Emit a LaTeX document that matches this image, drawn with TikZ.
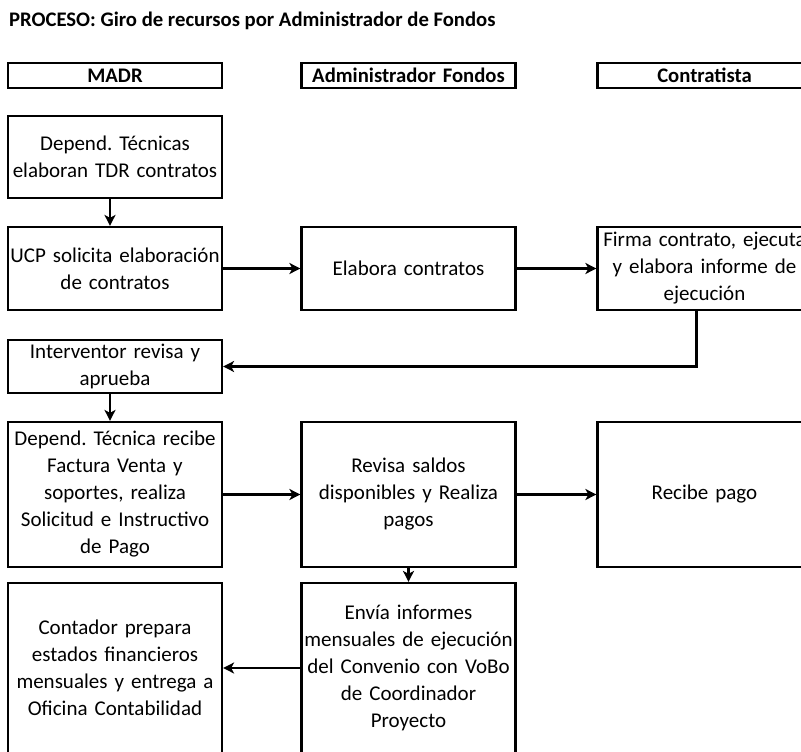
\documentclass[tikz,border=0pt]{standalone}
\usepackage{fontspec}
\setmainfont{Carlito}
\frenchspacing
\usetikzlibrary{positioning}
\usetikzlibrary{arrows.meta}

\begin{document}
\begin{tikzpicture}[
  x=1pt, y=-1pt,
  line width=2.2pt,
  procbox/.style={draw, rectangle, minimum width=214pt, text width=214pt,
    inner xsep=0pt, inner ysep=0pt, align=center,
    font=\fontsize{21}{27}\selectfont},
  headbox/.style={procbox, minimum height=25pt, font=\fontsize{20.7}{24}\selectfont\bfseries},
  flow/.style={-{Stealth[length=11pt,width=11pt,inset=3pt]}},
  node distance=2.5cm
]
\useasboundingbox (0,0) rectangle (801,752);
\clip (0,0) rectangle (801,752);

% Title
\node[anchor=base west, inner sep=0pt, font=\fontsize{20.7}{24}\selectfont\bfseries] (title) at (8,27)
  {PROCESO: Giro de recursos por Administrador de Fondos};

% Column headers
\node[headbox] (hmadr) at (115,75.5) {MADR};
\node[headbox] (hadmin) at (408.5,75.5) {Administrador Fondos};
\node[headbox] (hcontr) at (704.5,75.5) {Contratista};

% Process steps
\node[procbox, minimum height=82pt] (tdr) at (115,157) {Depend. Técnicas\\elaboran TDR contratos};
\node[procbox, minimum height=83pt] (ucp) at (115,268.5) {UCP solicita elaboración\\de contratos};
\node[procbox, minimum height=83pt] (elab) at (408.5,268.5) {Elabora contratos};
\node[procbox, minimum height=83pt] (firma) at (704.5,268.5) {Firma contrato, ejecuta\\y elabora informe de\\ejecución};
\node[procbox, minimum height=53pt] (interv) at (115,366.5) {Interventor revisa y\\aprueba};
\node[procbox, minimum height=145pt] (factura) at (115,494.5) {Depend. Técnica recibe\\Factura Venta y\\soportes, realiza\\Solicitud e Instructivo\\de Pago};
\node[procbox, minimum height=145pt] (saldos) at (408.5,494.5) {Revisa saldos\\disponibles y Realiza\\pagos};
\node[procbox, minimum height=145pt] (pago) at (704.5,494.5) {Recibe pago};
\node[procbox, minimum height=170pt] (contador) at (115,668) {Contador prepara\\estados financieros\\mensuales y entrega a\\Oficina Contabilidad};
\node[procbox, minimum height=170pt] (informes) at (408.5,668) {Envía informes\\mensuales de ejecución\\del Convenio con VoBo\\de Coordinador\\Proyecto};

% Connectors
\draw[flow] ([xshift=-5pt]tdr.south) -- ([xshift=-5pt]ucp.north);
\draw[flow] (ucp) -- (elab);
\draw[flow] (elab) -- (firma);
\draw[flow] ([xshift=-8pt]firma.south) |- (interv.east);
\draw[flow] ([xshift=-5pt]interv.south) -- ([xshift=-5pt]factura.north);
\draw[flow] (factura) -- (saldos);
\draw[flow] (saldos) -- (pago);
\draw[flow] (saldos) -- (informes);
\draw[flow] (informes) -- (contador);

\end{tikzpicture}
\end{document}
